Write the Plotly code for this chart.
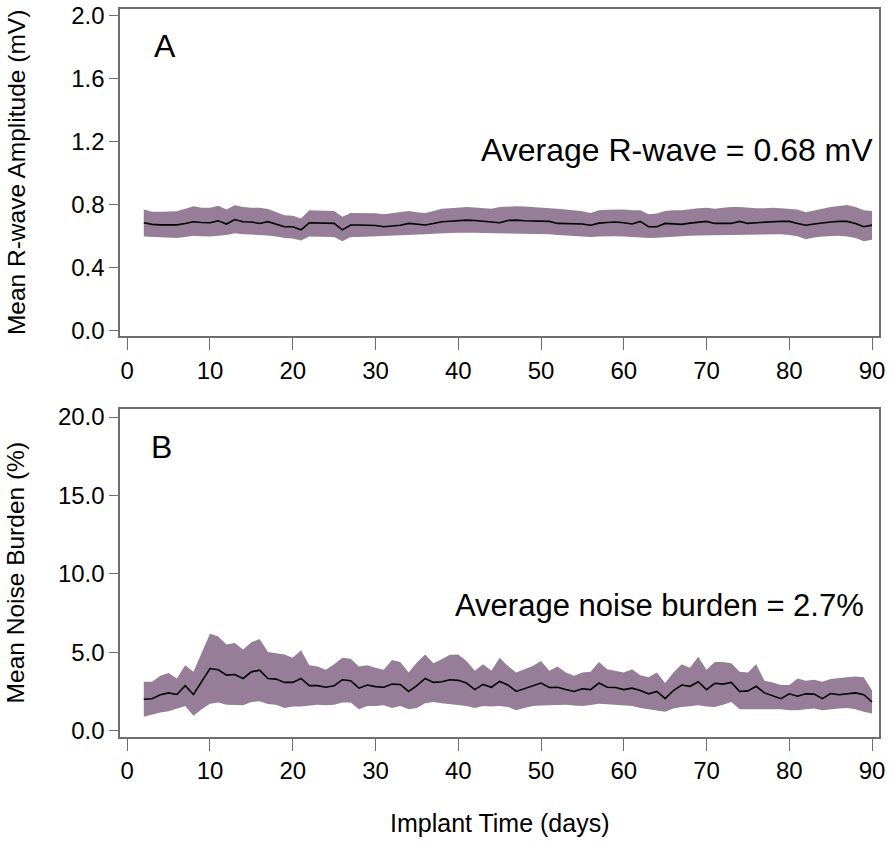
import plotly.graph_objects as go

# implant day 2..90
days = list(range(2, 91))

# panel A: mean R-wave amplitude (mV) and band limits
rwave_mean = [0.685, 0.675, 0.672, 0.672, 0.672, 0.680, 0.692, 0.687, 0.685, 0.698,
              0.677, 0.706, 0.692, 0.690, 0.681, 0.692, 0.676, 0.660, 0.660, 0.640,
              0.685, 0.685, 0.683, 0.681, 0.640, 0.671, 0.671, 0.671, 0.668, 0.660,
              0.666, 0.669, 0.681, 0.675, 0.671, 0.680, 0.692, 0.695, 0.698, 0.702,
              0.700, 0.695, 0.692, 0.685, 0.700, 0.702, 0.698, 0.696, 0.698, 0.694,
              0.681, 0.681, 0.681, 0.677, 0.669, 0.683, 0.687, 0.690, 0.685, 0.677,
              0.694, 0.660, 0.660, 0.681, 0.678, 0.675, 0.683, 0.690, 0.694, 0.681,
              0.681, 0.681, 0.694, 0.681, 0.685, 0.690, 0.692, 0.694, 0.694, 0.681,
              0.669, 0.677, 0.685, 0.690, 0.694, 0.694, 0.681, 0.660, 0.670]
rwave_upper = [0.769, 0.755, 0.755, 0.755, 0.758, 0.775, 0.790, 0.780, 0.781, 0.794,
               0.769, 0.796, 0.785, 0.781, 0.781, 0.773, 0.755, 0.733, 0.729, 0.713,
               0.765, 0.765, 0.762, 0.760, 0.723, 0.748, 0.748, 0.748, 0.745, 0.740,
               0.748, 0.755, 0.760, 0.752, 0.748, 0.760, 0.775, 0.778, 0.782, 0.785,
               0.782, 0.778, 0.775, 0.785, 0.788, 0.790, 0.788, 0.785, 0.785, 0.780,
               0.775, 0.770, 0.765, 0.758, 0.748, 0.765, 0.768, 0.770, 0.770, 0.765,
               0.765, 0.740, 0.744, 0.760, 0.765, 0.765, 0.772, 0.778, 0.781, 0.775,
               0.780, 0.785, 0.785, 0.780, 0.778, 0.778, 0.781, 0.778, 0.775, 0.769,
               0.752, 0.765, 0.775, 0.785, 0.792, 0.798, 0.785, 0.765, 0.760]
rwave_lower = [0.598, 0.595, 0.592, 0.590, 0.588, 0.595, 0.602, 0.600, 0.598, 0.602,
               0.608, 0.619, 0.612, 0.610, 0.608, 0.605, 0.598, 0.588, 0.585, 0.573,
               0.598, 0.598, 0.596, 0.594, 0.567, 0.594, 0.594, 0.596, 0.598, 0.598,
               0.602, 0.605, 0.608, 0.610, 0.612, 0.615, 0.619, 0.620, 0.622, 0.623,
               0.622, 0.620, 0.619, 0.619, 0.619, 0.619, 0.619, 0.617, 0.615, 0.612,
               0.608, 0.605, 0.600, 0.598, 0.594, 0.598, 0.600, 0.600, 0.598, 0.595,
               0.592, 0.588, 0.590, 0.594, 0.596, 0.598, 0.602, 0.605, 0.606, 0.608,
               0.608, 0.608, 0.608, 0.608, 0.610, 0.612, 0.615, 0.612, 0.608, 0.600,
               0.581, 0.592, 0.598, 0.600, 0.602, 0.598, 0.588, 0.567, 0.577]

# panel B: mean noise burden (%) and band limits
noise_mean = [2.01, 2.05, 2.30, 2.42, 2.32, 2.88, 2.32, 3.16, 3.97, 3.89,
              3.55, 3.59, 3.34, 3.76, 3.87, 3.34, 3.30, 3.09, 3.09, 3.34,
              2.88, 2.88, 2.78, 2.88, 3.26, 3.20, 2.72, 2.92, 2.82, 2.78,
              2.98, 2.96, 2.51, 2.88, 3.34, 3.09, 3.13, 3.26, 3.22, 3.05,
              2.63, 2.96, 2.78, 3.15, 2.92, 2.51, 2.68, 2.88, 3.05, 2.76,
              2.78, 2.63, 2.51, 2.68, 2.63, 3.05, 2.78, 2.76, 2.63, 2.72,
              2.57, 2.36, 2.51, 2.05, 2.57, 2.92, 2.84, 3.13, 2.63, 3.03,
              2.98, 3.09, 2.51, 2.55, 2.84, 2.42, 2.26, 2.05, 2.36, 2.21,
              2.36, 2.34, 2.05, 2.38, 2.30, 2.34, 2.42, 2.30, 1.84]
noise_upper = [3.13, 3.13, 3.51, 3.68, 3.34, 4.18, 3.76, 5.00, 6.19, 6.02,
               5.50, 5.60, 5.18, 5.64, 5.85, 5.02, 4.95, 4.87, 4.66, 5.14,
               4.18, 4.10, 3.89, 4.24, 4.66, 4.60, 4.10, 4.18, 4.03, 3.89,
               4.51, 4.39, 3.72, 4.35, 4.87, 4.31, 4.56, 4.85, 4.87, 4.45,
               3.83, 4.24, 3.83, 4.66, 4.14, 3.72, 3.93, 4.14, 4.45, 3.83,
               4.10, 3.72, 3.51, 3.72, 3.76, 4.39, 3.93, 3.83, 3.72, 3.93,
               3.55, 3.41, 3.72, 3.05, 3.72, 4.24, 4.03, 4.72, 3.89, 4.39,
               4.39, 4.31, 3.76, 3.72, 4.24, 3.20, 3.09, 2.92, 2.92, 3.34,
               3.20, 3.26, 3.13, 3.30, 3.34, 3.41, 3.47, 3.41, 2.57]
noise_lower = [0.90, 1.04, 1.17, 1.25, 1.42, 1.59, 0.96, 1.38, 1.73, 1.80,
               1.67, 1.63, 1.63, 1.84, 1.88, 1.71, 1.67, 1.46, 1.55, 1.55,
               1.59, 1.67, 1.63, 1.67, 1.80, 1.80, 1.38, 1.59, 1.59, 1.63,
               1.46, 1.59, 1.38, 1.46, 1.76, 1.84, 1.76, 1.71, 1.63, 1.59,
               1.46, 1.59, 1.55, 1.59, 1.52, 1.31, 1.45, 1.59, 1.62, 1.63,
               1.65, 1.67, 1.62, 1.59, 1.65, 1.73, 1.70, 1.67, 1.62, 1.59,
               1.46, 1.38, 1.30, 1.21, 1.42, 1.52, 1.57, 1.63, 1.55, 1.52,
               1.67, 1.84, 1.38, 1.38, 1.40, 1.42, 1.40, 1.38, 1.31, 1.31,
               1.38, 1.42, 1.31, 1.38, 1.42, 1.46, 1.38, 1.21, 1.10]

rwave_ticks = [0.0, 0.4, 0.8, 1.2, 1.6, 2.0]
noise_ticks = [0.0, 5.0, 10.0, 15.0, 20.0]
day_ticks = [0, 10, 20, 30, 40, 50, 60, 70, 80, 90]

FONT = "Liberation Sans, Arial, sans-serif"
BAND = "#977e98"
FRAME = "#6e6e6e"

fig = go.Figure()

panels = [
    (rwave_lower, rwave_upper, rwave_mean, "x", "y"),
    (noise_lower, noise_upper, noise_mean, "x2", "y2"),
]
for lower, upper, mean, xa, ya in panels:
    fig.add_trace(go.Scatter(x=days, y=lower, mode="lines", line=dict(width=0, color=BAND),
                             xaxis=xa, yaxis=ya, showlegend=False, hoverinfo="skip"))
    fig.add_trace(go.Scatter(x=days, y=upper, mode="lines", line=dict(width=0, color=BAND),
                             fill="tonexty", fillcolor=BAND,
                             xaxis=xa, yaxis=ya, showlegend=False, hoverinfo="skip"))
    fig.add_trace(go.Scatter(x=days, y=mean, mode="lines", line=dict(width=1.6, color="black"),
                             xaxis=xa, yaxis=ya, showlegend=False))

W, H = 896, 848


def px(v):
    return v / W


def py(v):
    return 1 - v / H


xdom = [px(121), px(885)]
axis_common = dict(showline=True, mirror=True, linecolor=FRAME, linewidth=1.5,
                   showgrid=False, zeroline=False, ticks="outside", tickcolor=FRAME,
                   tickwidth=1.2, ticklabeloverflow="allow",
                   tickfont=dict(family=FONT, size=24, color="black"))

fig.update_layout(
    width=W, height=H,
    margin=dict(l=0, r=0, t=0, b=0),
    paper_bgcolor="white", plot_bgcolor="white",
    font=dict(family=FONT, color="black"),
    xaxis=dict(domain=xdom, range=[-0.85, 90.85], tickvals=day_ticks, ticklen=12,
               anchor="y", **axis_common),
    yaxis=dict(domain=[py(335), py(2)], range=[-0.0375, 2.044],
               tickvals=rwave_ticks, tickformat=".1f", ticklen=9, anchor="x", **axis_common),
    xaxis2=dict(domain=xdom, range=[-0.85, 90.85], tickvals=day_ticks, ticklen=12,
                anchor="y2", **axis_common),
    yaxis2=dict(domain=[py(742), py(409)], range=[-0.376, 20.5],
                tickvals=noise_ticks, tickformat=".1f", ticklen=9, anchor="x2", **axis_common),
)

lab = dict(family=FONT, size=24.5, color="black")
fig.add_annotation(text="A", x=4.6, y=1.81, xref="x", yref="y", showarrow=False,
                   font=dict(family=FONT, size=32, color="black"),
                   xanchor="center", yanchor="middle")
fig.add_annotation(text="Average R-wave = 0.68 mV", x=90.4, y=1.15, xref="x", yref="y",
                   showarrow=False, font=dict(family=FONT, size=32, color="black"),
                   xanchor="right", yanchor="middle")
fig.add_annotation(text="B", x=4.2, y=18.1, xref="x2", yref="y2", showarrow=False,
                   font=dict(family=FONT, size=32, color="black"),
                   xanchor="center", yanchor="middle")
fig.add_annotation(text="Average noise burden = 2.7%", x=89.3, y=8.0, xref="x2", yref="y2",
                   showarrow=False, font=dict(family=FONT, size=31, color="black"),
                   xanchor="right", yanchor="middle")
fig.add_annotation(text="Mean R-wave Amplitude (mV)", x=px(16), y=py(168),
                   xref="paper", yref="paper", textangle=-90, showarrow=False, font=lab,
                   xanchor="center", yanchor="middle")
fig.add_annotation(text="Mean Noise Burden (%)", x=px(16), y=py(575),
                   xref="paper", yref="paper", textangle=-90, showarrow=False, font=lab,
                   xanchor="center", yanchor="middle")
fig.add_annotation(text="Implant Time (days)", x=px(503), y=py(830),
                   xref="paper", yref="paper", showarrow=False,
                   font=dict(family=FONT, size=25, color="black"),
                   xanchor="center", yanchor="middle")

# drop the default 8px body margin so the figure fills the window exactly
fig.write_html("out.html", config={"displayModeBar": False},
               post_script="document.body.style.margin = '0';")
